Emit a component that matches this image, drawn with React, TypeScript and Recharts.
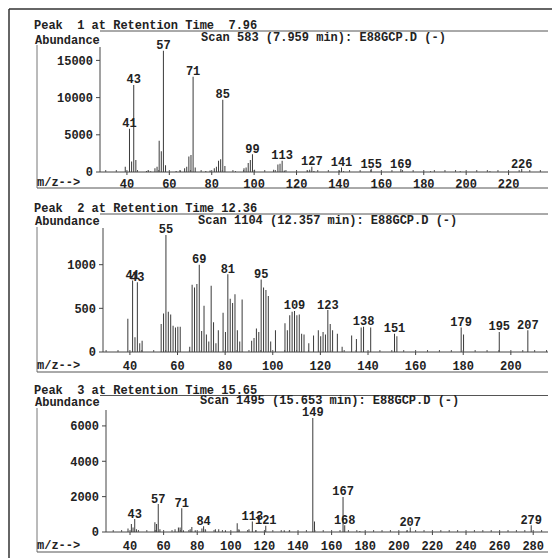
import React from 'react';
import { BarChart, Bar, XAxis, YAxis, LabelList } from 'recharts';

const W = 552;
const H = 558;
const FONT = "'Liberation Mono', 'DejaVu Sans Mono', monospace";

// Peak 1 (RT 7.96)
const p1Mz = [39, 41, 42, 43, 44, 49, 50, 51, 53, 54, 55, 56, 57, 58, 63, 65, 67, 68, 69, 70, 71, 72, 77, 79, 81, 82, 83, 84, 85, 86, 91, 95, 96, 97, 98, 99, 100, 109, 111, 112, 113, 114, 125, 126, 127, 128, 140, 141, 142, 155, 169, 183, 197, 211, 226];
const p1Ab = [700, 5800, 1400, 11700, 1600, 150, 200, 100, 500, 700, 4200, 2800, 16300, 900, 150, 200, 500, 700, 2100, 2300, 12800, 600, 150, 200, 500, 700, 1500, 1700, 9700, 800, 100, 500, 600, 1200, 1600, 2400, 300, 300, 1000, 1100, 1500, 200, 200, 300, 700, 150, 200, 600, 100, 400, 400, 100, 100, 100, 400];
const p1Labels = [41, 43, 57, 71, 85, 99, 113, 127, 141, 155, 169, 226];
const p1XTicks = [40, 60, 80, 100, 120, 140, 160, 180, 200, 220];
const p1YTicks = [0, 5000, 10000, 15000];

// Peak 2 (RT 12.36)
const p2Mz = [39, 41, 42, 43, 44, 45, 53, 54, 55, 56, 57, 58, 59, 60, 61, 65, 66, 67, 68, 69, 70, 71, 72, 73, 74, 75, 76, 77, 79, 80, 81, 82, 83, 84, 85, 86, 87, 91, 92, 93, 94, 95, 96, 97, 98, 99, 101, 105, 106, 107, 108, 109, 110, 111, 112, 113, 115, 117, 119, 120, 121, 122, 123, 124, 125, 127, 129, 133, 135, 137, 138, 141, 151, 152, 179, 180, 195, 207];
const p2Ab = [380, 820, 170, 800, 100, 130, 320, 440, 1340, 460, 430, 300, 280, 290, 290, 60, 770, 740, 780, 1000, 240, 530, 200, 120, 760, 340, 100, 250, 450, 230, 890, 610, 560, 660, 250, 120, 600, 130, 160, 270, 230, 830, 740, 710, 640, 120, 250, 330, 250, 420, 460, 470, 420, 430, 210, 200, 100, 190, 250, 180, 230, 200, 480, 320, 250, 210, 60, 190, 150, 280, 290, 280, 210, 180, 280, 200, 230, 250];
const p2Labels = [41, 43, 55, 69, 81, 95, 109, 123, 138, 151, 179, 195, 207];
const p2XTicks = [40, 60, 80, 100, 120, 140, 160, 180, 200];
const p2YTicks = [0, 500, 1000];

// Peak 3 (RT 15.65)
const p3Mz = [39, 41, 42, 43, 44, 55, 56, 57, 58, 67, 69, 70, 71, 72, 76, 77, 79, 83, 84, 85, 91, 93, 97, 104, 105, 111, 113, 115, 121, 132, 135, 149, 150, 167, 168, 177, 205, 207, 279];
const p3Ab = [200, 450, 250, 730, 150, 550, 450, 1580, 150, 150, 250, 250, 1350, 100, 150, 280, 100, 200, 320, 150, 150, 150, 100, 500, 150, 150, 600, 100, 350, 100, 80, 6450, 600, 1980, 380, 60, 80, 250, 380];
const p3Labels = [43, 57, 71, 84, 113, 121, 149, 167, 168, 207, 279];
const p3XTicks = [40, 60, 80, 100, 120, 140, 160, 180, 200, 220, 240, 260, 280];
const p3YTicks = [0, 2000, 4000, 6000];

const renderLab = (props: any) => {
  const { x, y, width, value } = props;
  if (!value) return null;
  return (
    <text x={Number(x) + Number(width) / 2} y={Number(y) - 1.5} textAnchor="middle"
      fontFamily={FONT} fontWeight="bold" fontSize={12} fill="#222">{value}</text>
  );
};

function minorTicks(d: number[]) {
  const out: number[] = [];
  for (let v = Math.ceil(d[0] / 5) * 5; v <= d[1]; v += 5) out.push(v);
  return out;
}

function Panel(p: any) {
  const labSet = new Set(p.labels);
  const data = p.mz.map((m: number, i: number) => ({ mz: m, ab: p.ab[i], lab: labSet.has(m) ? String(m) : '' }));
  const tickStyle = { fontFamily: FONT, fontWeight: 'bold', fontSize: 12, fill: '#222' };
  return (
    <div style={{ position: 'absolute', left: 0, top: 0 }}>
      <BarChart width={W} height={H} data={data}
        margin={{ top: p.top, left: 0, right: W - p.right, bottom: H - p.bottom - 20 }}>
        <XAxis dataKey="mz" type="number" domain={p.xDomain} ticks={p.xTicks} allowDataOverflow interval={0}
          height={20} tickSize={3} tickMargin={p.xTickMargin} axisLine={{ stroke: '#444' }} tickLine={{ stroke: '#444' }}
          tick={tickStyle} />
        <XAxis xAxisId="minor" dataKey="mz" type="number" domain={p.xDomain} ticks={minorTicks(p.xDomain)} allowDataOverflow
          interval={0} mirror height={20} tickSize={2} axisLine={false} tickLine={{ stroke: '#555' }} tickFormatter={() => ''} />
        <YAxis type="number" domain={p.yDomain} ticks={p.yTicks} allowDataOverflow interval={0} width={p.left}
          tickSize={4} tickMargin={3} axisLine={{ stroke: '#444' }} tickLine={{ stroke: '#444' }} tick={tickStyle} />
        <Bar dataKey="ab" barSize={1} fill="#3a3a3a" isAnimationActive={false}>
          <LabelList dataKey="lab" content={renderLab} />
        </Bar>
      </BarChart>
    </div>
  );
}

const headers = [
  { title: 'Peak  1 at Retention Time  7.96', scan: 'Scan 583 (7.959 min): E88GCP.D (-)', titleY: 25, lineY: 31, scanX: 201, scanY: 37, abY: 40, frameTop: 45, mzY: 182, bottomY: 188 },
  { title: 'Peak  2 at Retention Time 12.36', scan: 'Scan 1104 (12.357 min): E88GCP.D (-)', titleY: 208, lineY: 214, scanX: 198, scanY: 219.5, abY: 221, frameTop: 227, mzY: 365, bottomY: 372 },
  { title: 'Peak  3 at Retention Time 15.65', scan: 'Scan 1495 (15.653 min): E88GCP.D (-)', titleY: 390, lineY: 395.5, scanX: 200, scanY: 399.5, abY: 402, frameTop: 408, mzY: 545, bottomY: 552 },
];

export default function App() {
  const txt = { fontFamily: FONT, fontWeight: 'bold' as const, fontSize: 12, fill: '#222' };
  return (
    <div style={{ position: 'absolute', left: 0, top: 0, width: W, height: H, background: '#fff', overflow: 'hidden' }}>
      <svg width={W} height={H} style={{ position: 'absolute', left: 0, top: 0 }}>
        <line x1={9} y1={9} x2={W} y2={9} stroke="#333" strokeWidth={1.5} />
        <line x1={9} y1={9} x2={9} y2={H} stroke="#333" strokeWidth={1.5} />
        {headers.map((h, i) => (
          <g key={i}>
            <text x={34} y={h.titleY} dy="0.35em" style={{ whiteSpace: 'pre' }} {...txt}>{h.title}</text>
            <line x1={100} y1={h.lineY} x2={548} y2={h.lineY} stroke="#555" strokeWidth={1} />
            <text x={h.scanX} y={h.scanY} dy="0.35em" style={{ whiteSpace: 'pre' }} {...txt}>{h.scan}</text>
            <text x={35} y={h.abY} dy="0.35em" {...txt}>Abundance</text>
            <line x1={37} y1={h.frameTop} x2={37} y2={h.bottomY} stroke="#777" strokeWidth={1} />
            <line x1={37} y1={h.bottomY} x2={548} y2={h.bottomY} stroke="#555" strokeWidth={1} />
            <text x={37} y={h.mzY} dy="0.35em" {...txt}>m/z--&gt;</text>
          </g>
        ))}
      </svg>
      <Panel mz={p1Mz} ab={p1Ab} labels={p1Labels} xTicks={p1XTicks} yTicks={p1YTicks}
        xDomain={[27.3, 238.6]} yDomain={[0, 16800]} left={100} right={548} top={47} bottom={172} xTickMargin={4} />
      <Panel mz={p2Mz} ab={p2Ab} labels={p2Labels} xTicks={p2XTicks} yTicks={p2YTicks}
        xDomain={[28.7, 215.6]} yDomain={[0, 1420]} left={103} right={548} top={228} bottom={352} xTickMargin={6} />
      <Panel mz={p3Mz} ab={p3Ab} labels={p3Labels} xTicks={p3XTicks} yTicks={p3YTicks}
        xDomain={[25.7, 288.8]} yDomain={[0, 6900]} left={106} right={548} top={410} bottom={532} xTickMargin={6} />
    </div>
  );
}
